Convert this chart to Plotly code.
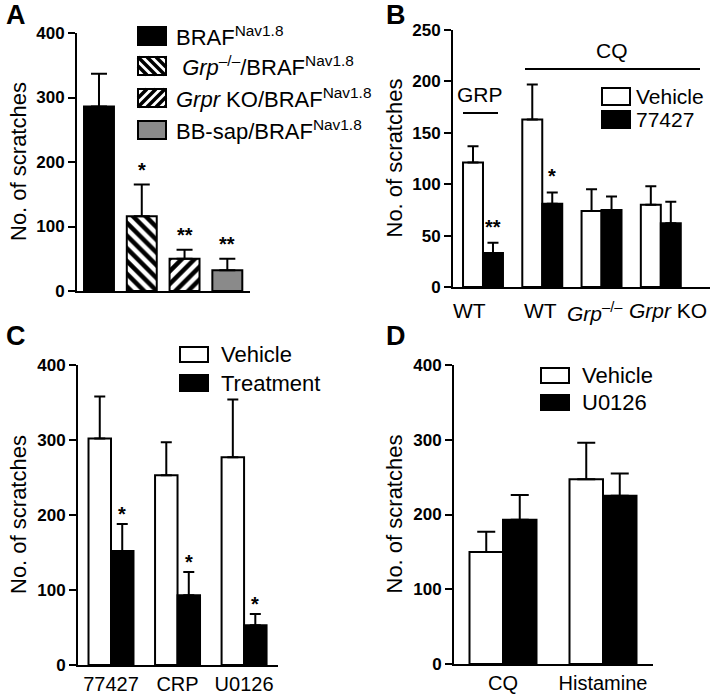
import plotly.graph_objects as go

# ---------------- data ----------------
A_labels = ["BRAF<sup>Nav1.8</sup>",
            " <i>Grp</i><sup>–/–</sup>/BRAF<sup>Nav1.8</sup>",
            "<i>Grpr</i> KO/BRAF<sup>Nav1.8</sup>",
            "BB-sap/BRAF<sup>Nav1.8</sup>"]
A_means = [286, 116, 50, 32]
A_err = [51, 49, 14, 18]
A_sig = ["", "*", "**", "**"]

B_groups = ["WT", "WT", "<i>Grp</i><sup>–/–</sup>", "<i>Grpr</i> KO"]
B_vehicle = [121, 163, 74, 80]
B_vehicle_err = [16, 34, 21, 18]
B_drug = [33, 81, 75, 62]
B_drug_err = [10, 11, 13, 21]
B_sig = ["**", "*", "", ""]

C_groups = ["77427", "CRP", "U0126"]
C_vehicle = [302, 253, 277]
C_vehicle_err = [56, 44, 77]
C_treat = [152, 93, 53]
C_treat_err = [36, 31, 15]
C_sig = ["*", "*", "*"]

D_groups = ["CQ", "Histamine"]
D_vehicle = [150, 247]
D_vehicle_err = [27, 49]
D_drug = [193, 225]
D_drug_err = [33, 30]

A_ticks = [0, 100, 200, 300, 400]
B_ticks = [0, 50, 100, 150, 200, 250]
C_ticks = [0, 100, 200, 300, 400]
D_ticks = [0, 100, 200, 300, 400]

W, H = 714, 694
FONT = "Liberation Sans, Arial, sans-serif"


def px(x):
    return x / W


def py(y):
    return 1 - y / H


fig = go.Figure()


def err(arr, width=8):
    return dict(type="data", symmetric=False, array=arr, arrayminus=[0] * len(arr),
                thickness=2, width=width, color="black")


# ---------- Panel A ----------
A_fill = ["black", "white", "white", "#8a8a8a"]
A_shape = ["", "\\", "/", ""]
A_x = list(range(len(A_means)))
for i in A_x:
    mk = dict(color=A_fill[i], line=dict(color="black", width=2))
    if A_shape[i]:
        mk["pattern"] = dict(shape=A_shape[i], fgcolor="black", bgcolor="white",
                             fgopacity=1, size=9, solidity=0.5)
    fig.add_trace(go.Bar(
        x=[A_x[i]], y=[A_means[i]], width=0.70, xaxis="x", yaxis="y",
        marker=mk, error_y=err([A_err[i]], width=8), showlegend=False))

# ---------- Panel B ----------
B_x = list(range(len(B_groups)))
bw_B = 0.337
fig.add_trace(go.Bar(x=B_x, y=B_vehicle, width=bw_B, offset=-bw_B, xaxis="x2", yaxis="y2",
                     marker=dict(color="white", line=dict(color="black", width=2)),
                     error_y=err(B_vehicle_err, width=5.5), showlegend=False))
fig.add_trace(go.Bar(x=B_x, y=B_drug, width=bw_B, offset=0, xaxis="x2", yaxis="y2",
                     marker=dict(color="black", line=dict(color="black", width=2)),
                     error_y=err(B_drug_err, width=5.5), showlegend=False))

# ---------- Panel C ----------
C_x = list(range(len(C_groups)))
bw_C = 0.338
fig.add_trace(go.Bar(x=C_x, y=C_vehicle, width=bw_C, offset=-bw_C, xaxis="x3", yaxis="y3",
                     marker=dict(color="white", line=dict(color="black", width=2)),
                     error_y=err(C_vehicle_err, width=5.5), showlegend=False))
fig.add_trace(go.Bar(x=C_x, y=C_treat, width=bw_C, offset=0, xaxis="x3", yaxis="y3",
                     marker=dict(color="black", line=dict(color="black", width=2)),
                     error_y=err(C_treat_err, width=5.5), showlegend=False))

# ---------- Panel D ----------
D_x = list(range(len(D_groups)))
bw_D = 0.335
fig.add_trace(go.Bar(x=D_x, y=D_vehicle, width=bw_D, offset=-bw_D, xaxis="x4", yaxis="y4",
                     marker=dict(color="white", line=dict(color="black", width=2)),
                     error_y=err(D_vehicle_err, width=9), showlegend=False))
fig.add_trace(go.Bar(x=D_x, y=D_drug, width=bw_D, offset=0, xaxis="x4", yaxis="y4",
                     marker=dict(color="black", line=dict(color="black", width=2)),
                     error_y=err(D_drug_err, width=9), showlegend=False))


# ---------- axes ----------
def xax(dom, rng, **kw):
    d = dict(domain=[px(dom[0]), px(dom[1])], range=rng, showline=True, linecolor="black",
             linewidth=2, showgrid=False, zeroline=False, ticks="", showticklabels=False,
             fixedrange=True, automargin=False)
    d.update(kw)
    return d


def yax(dom, rng, ticks, anchor):
    return dict(domain=[py(dom[1]), py(dom[0])], range=rng, showline=True, linecolor="black",
                linewidth=2, showgrid=False, zeroline=False, ticks="outside", ticklen=7,
                tickwidth=2, tickcolor="black", tickmode="array", tickvals=ticks,
                ticktext=[str(t) for t in ticks],
                tickfont=dict(family=FONT, size=17, color="black", weight="bold"),
                anchor=anchor, fixedrange=True, automargin=False)


fig.update_layout(
    width=W, height=H, margin=dict(l=0, r=0, t=0, b=0),
    paper_bgcolor="white", plot_bgcolor="rgba(0,0,0,0)",
    barmode="overlay", showlegend=False,
    font=dict(family=FONT, color="black"),
    xaxis=xax((77, 250), [-0.514, 3.53], anchor="y"),
    yaxis=yax((33, 291), [0, 400], A_ticks, "x"),
    xaxis2=xax((453, 710), [-0.506, 3.83], anchor="y2"),
    yaxis2=yax((30, 287), [0, 250], B_ticks, "x2"),
    xaxis3=xax((78, 278), [-0.496, 2.51], anchor="y3", showticklabels=True,
               tickmode="array", tickvals=C_x, ticktext=C_groups, tickangle=0,
               tickfont=dict(family=FONT, size=20, color="black")),
    yaxis3=yax((365, 665), [0, 400], C_ticks, "x3"),
    xaxis4=xax((454, 653), [-0.49, 1.5], anchor="y4", showticklabels=True,
               tickmode="array", tickvals=D_x, ticktext=D_groups, tickangle=0,
               tickfont=dict(family=FONT, size=20, color="black")),
    yaxis4=yax((365, 664), [0, 400], D_ticks, "x4"),
)

ann = []
shapes = []

# panel letters
for letter, x, y in [("A", 16, 15), ("B", 396, 15), ("C", 16, 336), ("D", 396, 336)]:
    ann.append(dict(text=letter, x=px(x), y=py(y), xref="paper", yref="paper",
                    xanchor="center", yanchor="middle", showarrow=False,
                    font=dict(family=FONT, size=27, color="black", weight="bold")))

# y titles
for x, y0, y1 in [(18, 33, 291), (394, 30, 287), (18, 365, 665), (394, 365, 664)]:
    ann.append(dict(text="No. of scratches", x=px(x), y=py((y0 + y1) / 2), xref="paper",
                    yref="paper", xanchor="center", yanchor="middle", textangle=-90,
                    showarrow=False, font=dict(family=FONT, size=22, color="black")))

# significance stars
for i, s in enumerate(A_sig):
    if s:
        ann.append(dict(text=s, x=A_x[i], y=A_means[i] + A_err[i], xref="x", yref="y",
                        yanchor="bottom", yshift=2, showarrow=False,
                        font=dict(family=FONT, size=20, color="black", weight="bold")))
for i, s in enumerate(B_sig):
    if s:
        ann.append(dict(text=s, x=B_x[i] + bw_B / 2, y=B_drug[i] + B_drug_err[i], xref="x2",
                        yref="y2", yanchor="bottom", yshift=3, showarrow=False,
                        font=dict(family=FONT, size=20, color="black", weight="bold")))
for i, s in enumerate(C_sig):
    if s:
        ann.append(dict(text=s, x=C_x[i] + bw_C / 2, y=C_treat[i] + C_treat_err[i], xref="x3",
                        yref="y3", yanchor="bottom", yshift=-3, showarrow=False,
                        font=dict(family=FONT, size=20, color="black", weight="bold")))

# panel B x labels (Prism places them slightly off the group centres)
B_label_shift = [-13, -2, -7, 7]
for i, g in enumerate(B_groups):
    ann.append(dict(text=g, x=B_x[i], y=0, xref="x2", yref="y2", yanchor="top",
                    xshift=B_label_shift[i], yshift=-10, showarrow=False,
                    font=dict(family=FONT, size=21, color="black")))

# panel B group brackets
ann.append(dict(text="GRP", x=px(480), y=py(95), xref="paper", yref="paper",
                xanchor="center", yanchor="middle", showarrow=False,
                font=dict(family=FONT, size=21, color="black")))
shapes.append(dict(type="line", xref="paper", yref="paper", x0=px(463), x1=px(498),
                   y0=py(113), y1=py(113), line=dict(color="black", width=2)))
ann.append(dict(text="CQ", x=px(612), y=py(50), xref="paper", yref="paper",
                xanchor="center", yanchor="middle", showarrow=False,
                font=dict(family=FONT, size=21, color="black")))
shapes.append(dict(type="line", xref="paper", yref="paper", x0=px(525), x1=px(700),
                   y0=py(69), y1=py(69), line=dict(color="black", width=2)))


# ---------- manual legends ----------
def box(x0, y0, x1, y1, fill):
    shapes.append(dict(type="rect", xref="paper", yref="paper", x0=px(x0), x1=px(x1),
                       y0=py(y1), y1=py(y0), fillcolor=fill,
                       line=dict(color="black", width=2)))


def hatch(x0, y0, x1, y1, period, kind):
    segs = []
    w, h = x1 - x0, y1 - y0
    c = -h
    while c < w + h:
        pts = []
        if kind == "\\":
            for t in [0, h]:
                xx = c + t
                if 0 <= xx <= w:
                    pts.append((xx, t))
            for xx in [0, w]:
                t = xx - c
                if 0 < t < h:
                    pts.append((xx, t))
        else:
            for t in [0, h]:
                xx = c - t
                if 0 <= xx <= w:
                    pts.append((xx, t))
            for xx in [0, w]:
                t = c - xx
                if 0 < t < h:
                    pts.append((xx, t))
        if len(pts) >= 2:
            (ax, ay), (bx, by) = pts[0], pts[1]
            segs.append("M{:.5f},{:.5f}L{:.5f},{:.5f}".format(
                px(x0 + ax), py(y0 + ay), px(x0 + bx), py(y0 + by)))
        c += period
    if segs:
        shapes.append(dict(type="path", xref="paper", yref="paper", path="".join(segs),
                           line=dict(color="black", width=3.5)))


legA = [(27, 45), (57, 75), (89, 107), (121, 139)]
for i, (y0, y1) in enumerate(legA):
    box(138, y0, 166, y1, "white" if A_shape[i] else A_fill[i])
    if A_shape[i]:
        hatch(138, y0, 166, y1, 9, A_shape[i])
        box(138, y0, 166, y1, "rgba(0,0,0,0)")
    ann.append(dict(text=A_labels[i], x=px(174), y=py((y0 + y1) / 2), xref="paper",
                    yref="paper", xanchor="left", yanchor="middle", showarrow=False,
                    font=dict(family=FONT, size=22, color="black")))


def pair_legend(x0, x1, rows, tx, names, size=22):
    for (y0, y1), fill, name in zip(rows, ["white", "black"], names):
        box(x0, y0, x1, y1, fill)
        ann.append(dict(text=name, x=px(tx), y=py((y0 + y1) / 2), xref="paper",
                        yref="paper", xanchor="left", yanchor="middle", showarrow=False,
                        borderpad=0, font=dict(family=FONT, size=size, color="black")))


pair_legend(602, 630, [(88, 105), (111, 128)], 635, ["Vehicle", "77427"], size=21)
pair_legend(180, 208, [(347, 362), (375, 391)], 220, ["Vehicle", "Treatment"])
pair_legend(541, 569, [(368, 383), (395, 410)], 581, ["Vehicle", "U0126"])

fig.update_layout(annotations=ann, shapes=shapes)
fig.write_html("out.html", config={"displayModeBar": False},
               post_script="document.body.style.margin='0px';document.body.style.overflow='hidden';")
